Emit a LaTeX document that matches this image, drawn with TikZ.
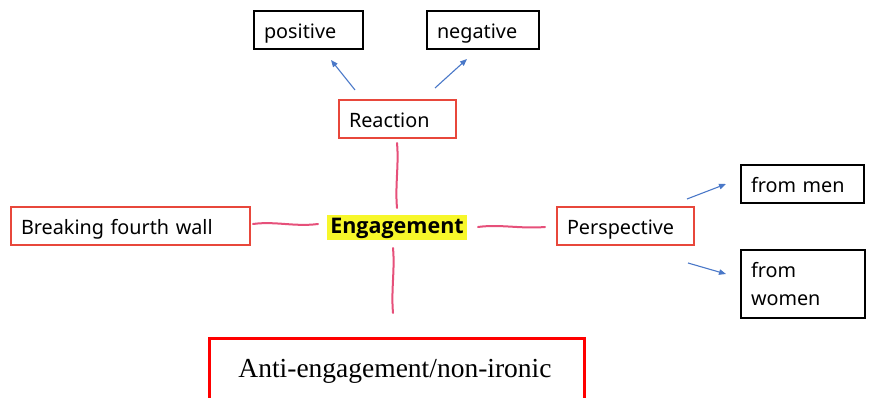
\documentclass[tikz,border=0pt]{standalone}
\usepackage{fontspec}
\setmainfont{Noto Sans}
\newfontfamily\serifrm{Liberation Serif}
\newfontfamily\engfont{Open Sans}
\usetikzlibrary{arrows.meta}
\definecolor{boxred}{HTML}{E8473B}
\definecolor{linkpink}{HTML}{E6507A}
\definecolor{arrowblue}{HTML}{4A78C8}
\definecolor{hiyellow}{HTML}{F7F72A}
\tikzset{
  basebox/.style={draw, line width=2pt, minimum height=38pt, inner xsep=10pt, inner ysep=0pt,
    text height=19.5pt, text depth=2.5pt,
    anchor=north west, align=left, font=\fontsize{19.8}{28}\selectfont},
  blackbox/.style={basebox, draw=black},
  redbox/.style={basebox, draw=boxred},
  pinklink/.style={draw=linkpink, line width=2pt, line cap=round},
  bluearrow/.style={draw=arrowblue, line width=1.1pt, -{Triangle[length=7pt,width=5.5pt]}},
}
\begin{document}
\begin{tikzpicture}[x=1pt,y=1pt]
\useasboundingbox (0,0) rectangle (872,-398);
\clip (0,0) rectangle (872,-398);
% boxes
\node[blackbox, text width=89pt, minimum width=109pt] (pos) at (253,-10) {positive};
\node[blackbox, text width=92pt, minimum width=112pt] (neg) at (426,-10) {negative};
\node[redbox, text width=97pt, minimum width=117pt] (react) at (338,-99) {Reaction};
\node[redbox, text width=219pt, minimum width=239pt] (break) at (10,-206) {Breaking fourth wall};
\node[redbox, text width=117pt, minimum width=137pt] (persp) at (556,-206) {Perspective};
\node[blackbox, text width=103pt, minimum width=123pt] (men) at (740,-164) {from men};
\node[blackbox, text width=104pt, minimum width=124pt, minimum height=68pt,
  text height=27.5pt, text depth=40.5pt] (women) at (740,-249) {from\\women};
\node[fill=hiyellow, inner xsep=3pt, inner ysep=0pt, minimum width=140pt,
  text height=18.5pt, text depth=6.5pt, anchor=north,
  font=\engfont\fontsize{21.5}{24}\selectfont\bfseries] (eng) at (397,-215) {Engagement};
\node[draw=red, line width=3pt, minimum width=375pt, minimum height=70pt, anchor=north west] (anti) at (208,-337) {};
\node[font=\serifrm\fontsize{27.5}{30}\selectfont, anchor=base] (antitext) at (395,-377) {Anti-engagement/non-ironic};
% pink connectors
\coordinate (t1) at (397,-143); \coordinate (t2) at (397,-208);
\coordinate (l1) at (253,-224); \coordinate (l2) at (318,-224);
\coordinate (r1) at (478,-227); \coordinate (r2) at (545,-227);
\coordinate (b1) at (393,-248); \coordinate (b2) at (393,-313);
\draw[pinklink] (t1) .. controls (399,-165) and (395,-185) .. (t2);
\draw[pinklink] (l1) .. controls (275,-221) and (295,-227) .. (l2);
\draw[pinklink] (r1) .. controls (500,-224) and (520,-229) .. (r2);
\draw[pinklink] (b1) .. controls (395,-270) and (391,-290) .. (b2);
% blue arrows
\coordinate (a1s) at (355,-90); \coordinate (a1e) at (331,-60);
\coordinate (a2s) at (435,-88); \coordinate (a2e) at (467,-59);
\coordinate (a3s) at (687,-199); \coordinate (a3e) at (726,-184);
\coordinate (a4s) at (688,-263); \coordinate (a4e) at (726,-274);
\draw[bluearrow] (a1s) -- (a1e);
\draw[bluearrow] (a2s) -- (a2e);
\draw[bluearrow] (a3s) -- (a3e);
\draw[bluearrow] (a4s) -- (a4e);
\end{tikzpicture}
\end{document}
